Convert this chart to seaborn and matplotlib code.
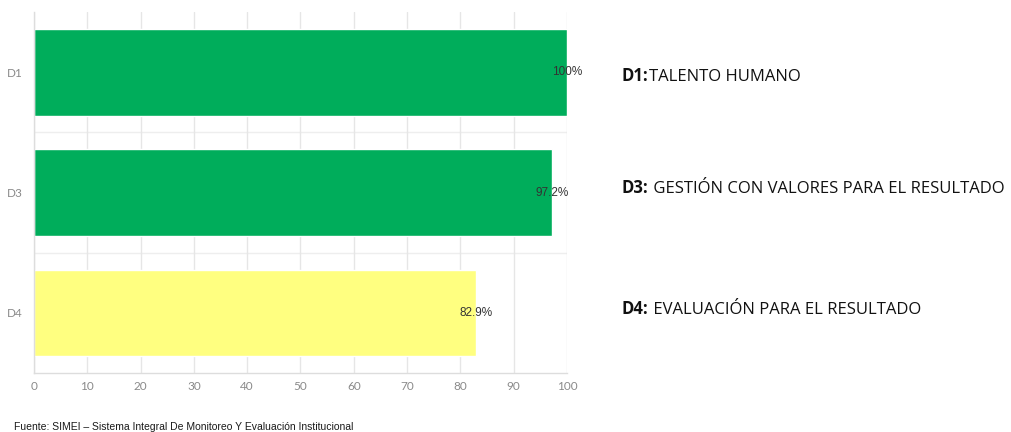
import matplotlib
matplotlib.use("Agg")
import matplotlib.pyplot as plt
import pandas as pd
import seaborn as sns

categories = ["D1", "D3", "D4"]
values = [100, 97.2, 82.9]
value_labels = ["100%", "97.2%", "82.9%"]
bar_colors = ["#00ad5b", "#00ad5b", "#ffff80"]
codes = ["D1:", "D3:", "D4:"]
names = ["TALENTO HUMANO", "GESTIÓN CON VALORES PARA EL RESULTADO", "EVALUACIÓN PARA EL RESULTADO"]
gaps = ["", " ", " "]
source = "Fuente: SIMEI – Sistema Integral De Monitoreo Y Evaluación Institucional"

sns.set_theme(style="white")
plt.rcParams['font.family'] = ['Lato', 'DejaVu Sans']

df = pd.DataFrame({"dim": categories, "pct": values})

fig = plt.figure(figsize=(10.11, 4.32), dpi=100)
ax = fig.add_axes([0.0336, 0.1366, 0.5272, 0.8354])

sns.barplot(data=df, x="pct", y="dim", hue="dim", palette=bar_colors,
            legend=False, width=0.72, ax=ax, saturation=1)

ax.set_xlim(0, 100)
ax.set_ylim(2.5, -0.5)
ax.set_xticks(range(0, 101, 10))
ax.set_xlabel("")
ax.set_ylabel("")
ax.set_axisbelow(True)
ax.grid(axis="x", color="#e6e6e6", linewidth=1)
for yb in [0.5, 1.5]:
    ax.axhline(yb, color="#eeeeee", linewidth=1, zorder=0)
for s in ["top", "right"]:
    ax.spines[s].set_visible(False)
for s in ["left", "bottom"]:
    ax.spines[s].set_color("#dddddd")
    ax.spines[s].set_linewidth(1)
ax.tick_params(axis="both", colors="#8a8a8a", labelsize=8.5, length=0, pad=6)
ax.tick_params(axis="y", pad=8)

for i, (v, lab) in enumerate(zip(values, value_labels)):
    ax.text(v, i, lab, ha="center", va="center", fontsize=8.5,
            color="#333333", family=["Liberation Sans", "DejaVu Sans"])

ys = [0.825, 0.565, 0.285]
for y, c, g, n in zip(ys, codes, gaps, names):
    t1 = fig.text(0.615, y, c, fontsize=12, fontweight="bold", color="#111111",
                  family=["Open Sans", "DejaVu Sans"], va="center")
    ax.annotate(g + n, xy=(1, 0), xycoords=t1, va="bottom", ha="left",
                fontsize=12, color="#111111", family=["Open Sans", "DejaVu Sans"],
                annotation_clip=False)

fig.text(0.014, 0.0, source, fontsize=7.5, color="#1a1a1a", fontweight="medium",
         family=["Liberation Sans Narrow", "Liberation Sans", "DejaVu Sans"], va="bottom")

fig.savefig("out.png", dpi=100)
